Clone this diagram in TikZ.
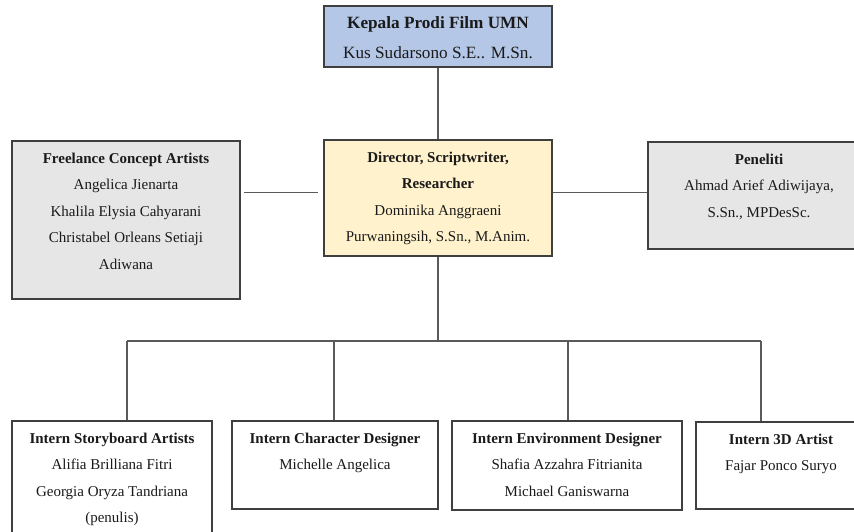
\documentclass[tikz,border=0pt]{standalone}
\usepackage{fontspec}
\setmainfont{Liberation Serif}
\definecolor{bordc}{HTML}{3F3F3F}
\definecolor{linec}{HTML}{5A5A5A}
\definecolor{topfill}{HTML}{B4C7E7}
\definecolor{midfill}{HTML}{FFF2CC}
\definecolor{sidefill}{HTML}{E7E6E6}
\definecolor{txtc}{HTML}{1A1A1A}
\begin{document}
\begin{tikzpicture}[x=1pt,y=-1pt,
  box/.style={draw=bordc,line width=1.2pt,rectangle,inner sep=0pt},
  txt/.style={anchor=north,inner sep=0pt,align=center,text=txtc,
    font=\fontsize{15}{26.5}\selectfont},
  bigtxt/.style={anchor=north,inner sep=0pt,align=center,text=txtc,
    font=\fontsize{17.2}{30}\selectfont},
  conn/.style={draw=linec,line width=1.3pt}]
\useasboundingbox (0,0) rectangle (854,531);
\clip (0,0) rectangle (854,531);
\fill[white] (0,0) rectangle (854,531);
% boxes
\node[box,fill=topfill,minimum width=228pt,minimum height=61pt] (top) at (438,36.5) {};
\node[box,fill=midfill,minimum width=228pt,minimum height=116pt] (mid) at (438,198) {};
\node[box,fill=sidefill,minimum width=228pt,minimum height=158pt] (left) at (126,220) {};
\node[box,fill=sidefill,minimum width=222pt,minimum height=107pt] (right) at (759,195.5) {};
\node[box,minimum width=200pt,minimum height=124pt] (b1) at (112,483) {};
\node[box,minimum width=206pt,minimum height=88pt] (b2) at (335,465) {};
\node[box,minimum width=230pt,minimum height=89pt] (b3) at (567,465.5) {};
\node[box,minimum width=170pt,minimum height=87pt] (b4) at (781,465.5) {};
% texts
\node[bigtxt] (ttop) at ([yshift=-11pt]top.north) {\textbf{Kepala Prodi Film UMN}\\Kus Sudarsono S.E.. M.Sn.};
\node[txt] (tmid) at ([yshift=-12pt]mid.north) {\textbf{Director, Scriptwriter,}\\\textbf{Researcher}\\Dominika Anggraeni\\Purwaningsih, S.Sn., M.Anim.};
\node[txt] (tleft) at ([yshift=-12pt]left.north) {\textbf{Freelance Concept Artists}\\Angelica Jienarta\\Khalila Elysia Cahyarani\\Christabel Orleans Setiaji\\Adiwana};
\node[txt] (tright) at ([yshift=-12pt]right.north) {\textbf{Peneliti}\\Ahmad Arief Adiwijaya,\\S.Sn., MPDesSc.};
\node[txt] (tb1) at ([yshift=-12pt]b1.north) {\textbf{Intern Storyboard Artists}\\Alifia Brilliana Fitri\\Georgia Oryza Tandriana\\(penulis)};
\node[txt] (tb2) at ([yshift=-12pt]b2.north) {\textbf{Intern Character Designer}\\Michelle Angelica};
\node[txt] (tb3) at ([yshift=-12pt]b3.north) {\textbf{Intern Environment Designer}\\Shafia Azzahra Fitrianita\\Michael Ganiswarna};
\node[txt] (tb4) at ([yshift=-12pt]b4.north) {\textbf{Intern 3D Artist}\\Fajar Ponco Suryo};
% connector coordinates
\coordinate (mrow) at (0,192.5);
\coordinate (d1) at (127,341);
\coordinate (d2) at (334,341);
\coordinate (d3) at (568,341);
\coordinate (d4) at (761,341);
% connectors
\draw[conn] (top.south) -- (mid.north);
\draw[conn,shorten <=3pt,shorten >=5pt] (left.east |- mrow) -- (mid.west |- mrow);
\draw[conn] (mid.east |- mrow) -- (right.west |- mrow);
\draw[conn] (mid.south) -- (mid.south |- d1);
\draw[conn] (d1) -- (d4);
\draw[conn] (d1) -- (d1 |- b1.north);
\draw[conn] (d2) -- (d2 |- b2.north);
\draw[conn] (d3) -- (d3 |- b3.north);
\draw[conn] (d4) -- (d4 |- b4.north);
\end{tikzpicture}
\end{document}
